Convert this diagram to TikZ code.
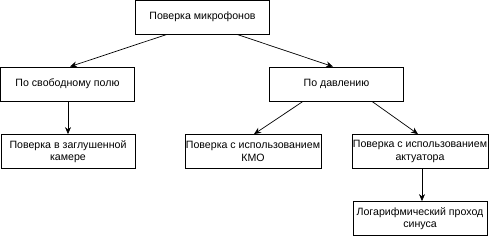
\documentclass[tikz,border=0pt]{standalone}
\usepackage{fontspec}
\setmainfont{Liberation Sans}
\usetikzlibrary{arrows.meta}

\begin{document}
\begin{tikzpicture}[
    x=1pt, y=-1pt,
    box/.style={rectangle, draw, line width=0.8pt, minimum width=134pt, minimum height=34pt, inner sep=1pt, align=center, font=\fontsize{10.6}{12.5}\selectfont},
    arrow/.style={-{Stealth[length=7pt, width=6pt]}, line width=0.7pt}
]

% Frame
\useasboundingbox (0,0) rectangle (489,236);

% Top level
\node[box] (verify) at (202.5,17) {Поверка микрофонов};

% Second level
\node[box] (free_field) at (67.5,84) {По свободному полю};
\node[box] (pressure) at (336.5,84) {По давлению};

% Third level
\node[box] (anechoic) at (68,151.5) {Поверка в заглушенной\\камере};
\node[box] (kmo) at (253,151.5) {Поверка с использованием\\КМО};
\node[box] (actuator) at (420,151.5) {Поверка с использованием\\актуатора};

% Fourth level
\node[box] (log_sweep) at (420,218.5) {Логарифмический проход\\синуса};

% Arrows from top box
\draw[arrow] (verify.south -| 167,0) -- (free_field.north -| 70,0);
\draw[arrow] (verify.south -| 237,0) -- (pressure.north -| 333,0);

% Free field branch
\draw[arrow] (free_field.south -| 68,0) -- (anechoic.north -| 68,0);

% Pressure branch
\draw[arrow] (pressure.south -| 303,0) -- (kmo.north -| 254,0);
\draw[arrow] (pressure.south -| 372,0) -- (actuator.north -| 418,0);

% Actuator branch
\draw[arrow] (actuator.south -| 422,0) -- (log_sweep.north -| 422,0);

\end{tikzpicture}
\end{document}
